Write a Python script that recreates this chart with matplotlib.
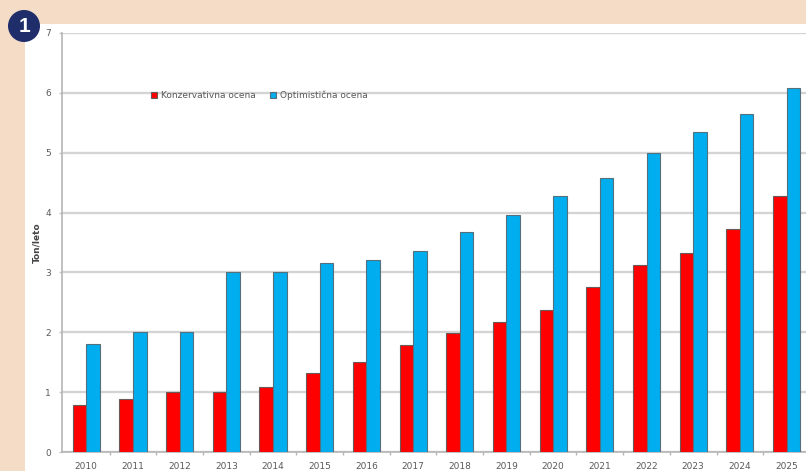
import matplotlib
matplotlib.use('Agg')
import matplotlib.pyplot as plt
import numpy as np
from matplotlib.patches import Circle, Rectangle
from matplotlib.transforms import IdentityTransform

years = ['2010', '2011', '2012', '2013', '2014', '2015', '2016', '2017',
         '2018', '2019', '2020', '2021', '2022', '2023', '2024', '2025']
konzervativna = [0.78, 0.88, 1.0, 1.0, 1.09, 1.32, 1.5, 1.78,
                 1.98, 2.18, 2.37, 2.75, 3.12, 3.33, 3.72, 4.27]
optimisticna = [1.8, 2.0, 2.0, 3.0, 3.0, 3.15, 3.2, 3.36,
                3.68, 3.96, 4.27, 4.58, 5.0, 5.35, 5.64, 6.08]

W, H = 806, 471
PEACH = '#f5dcc6'
NAVY = '#1f2d6b'
TEXT = '#5a5a5a'

fig = plt.figure(figsize=(W/100, H/100), dpi=100, facecolor=PEACH)

# white panel behind the chart
fig.add_artist(Rectangle((25/W, 0), 1, 1-24/H, transform=fig.transFigure,
                         facecolor='white', edgecolor='none', zorder=-5))

# axes run a bit past the right edge of the picture, like the reference
left, right, top, bottom = 62, 809, 33, 452
ax = fig.add_axes([left/W, 1-bottom/H, (right-left)/W, (bottom-top)/H])
ax.patch.set_alpha(0)

x = np.arange(len(years))
w = 0.29
ax.bar(x-w/2, konzervativna, w, color='#fe0000', edgecolor='#6a5a5a', linewidth=0.8,
       label='Konzervativna ocena', zorder=3)
ax.bar(x+w/2, optimisticna, w, color='#00aeef', edgecolor='#55707c', linewidth=0.8,
       label='Optimistična ocena', zorder=3)

ax.set_xlim(-0.52, len(years)-0.52)
ax.set_ylim(0, 7)
ax.set_xticks(x)
ax.set_xticklabels(years)
ax.set_xticks(x[:-1]+0.5, minor=True)
ax.set_yticks(range(8))
ax.yaxis.grid(True, color='#d4d4d4', linewidth=1.7, zorder=0)
ax.set_axisbelow(True)
ax.tick_params(axis='x', which='major', length=0, labelsize=6.5, labelcolor=TEXT, pad=7)
ax.tick_params(axis='x', which='minor', length=2, width=1, color='#b5b5b5')
ax.tick_params(axis='y', length=2, width=1, color='#c5c5c5', labelsize=6.5, labelcolor=TEXT, pad=6)
for s in ['top', 'right']:
    ax.spines[s].set_visible(False)
for s in ['left', 'bottom']:
    ax.spines[s].set_color('#b5b5b5')
    ax.spines[s].set_linewidth(1.2)
ax.set_ylabel('Ton/leto', fontsize=6.5, fontweight='bold', color='#444444', labelpad=3)

ax.legend(loc='upper left', bbox_to_anchor=((149-left)/(right-left), 1-(89-top)/(bottom-top)),
          ncol=2, frameon=False, fontsize=6.5, labelcolor=TEXT, handlelength=0.7,
          handleheight=0.7, handletextpad=0.4, columnspacing=1.6, borderpad=0.2,
          borderaxespad=0)

# numbered badge, in pixels so it stays round
fig.add_artist(Circle((24, H-26), 16, transform=IdentityTransform(),
                      facecolor=NAVY, edgecolor='none', zorder=5))
fig.text(24/W, 1-26/H, '1', color='white', fontsize=15, fontweight='bold',
         ha='center', va='center', family='Liberation Sans', zorder=6)

fig.savefig('out.png', dpi=100, facecolor=fig.get_facecolor())
